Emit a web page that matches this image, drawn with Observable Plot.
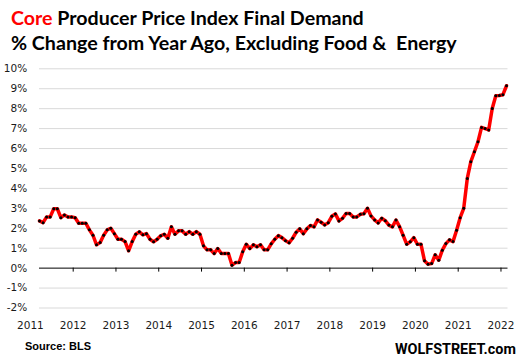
<!DOCTYPE html>
<html><head><meta charset="utf-8">
<script src="https://cdn.jsdelivr.net/npm/d3@7"></script>
<script src="https://cdn.jsdelivr.net/npm/@observablehq/plot@0.6"></script>
<style>
html,body{margin:0;padding:0;background:#fff;}
#wrap{position:relative;width:521px;height:364px;overflow:hidden;background:#fff;}
.ln{position:absolute;white-space:pre;font-weight:700;line-height:1;display:inline-block;color:#000;}
.ttl{font-family:Lato,"Liberation Sans",sans-serif;}
.bl{display:inline-block;width:0;height:0;vertical-align:baseline;}
#chart{position:absolute;left:0;top:58px;}
#src{font-family:"Liberation Sans",Arial,sans-serif;}
#wolf{font-family:Roboto,"Liberation Sans",sans-serif;}
</style></head>
<body>
<div id="wrap">
  <div id="t1" class="ln ttl"><span style="color:#ff0000">Core</span> Producer Price Index Final Demand<span class="bl"></span></div>
  <div id="t2" class="ln ttl">% Change from Year Ago, Excluding Food &amp;  Energy<span class="bl"></span></div>
  <div id="chart"></div>
  <div id="src" class="ln">Source: BLS<span class="bl"></span></div>
  <div id="wolf" class="ln">WOLFSTREET.com<span class="bl"></span></div>
</div>
<script>
// Core PPI Final Demand, % change y/y, monthly from Apr 2011 to Mar 2022
const v2011 = [2.37, 2.28, 2.57, 2.57, 2.98, 2.98, 2.53, 2.67, 2.57]; // Apr-Dec
const v2012 = [2.57, 2.53, 2.25, 2.25, 2.25, 1.92, 1.65, 1.17, 1.28, 1.65, 1.92, 2.00];
const v2013 = [1.73, 1.45, 1.45, 1.33, 0.87, 1.33, 1.70, 1.82, 1.67, 1.73, 1.45, 1.32];
const v2014 = [1.45, 1.62, 1.70, 1.50, 2.07, 1.70, 1.87, 1.87, 1.70, 1.83, 1.70, 1.83];
const v2015 = [1.70, 1.12, 0.92, 0.92, 0.73, 0.98, 0.73, 0.73, 0.73, 0.15, 0.28, 0.28];
const v2016 = [0.82, 1.20, 0.98, 1.17, 1.07, 1.17, 0.92, 0.92, 1.22, 1.45, 1.63, 1.53];
const v2017 = [1.38, 1.27, 1.50, 1.80, 1.97, 1.72, 1.97, 2.14, 2.07, 2.42, 2.30, 2.17];
const v2018 = [2.28, 2.60, 2.72, 2.37, 2.50, 2.74, 2.74, 2.57, 2.57, 2.70, 2.73, 3.00];
const v2019 = [2.62, 2.42, 2.27, 2.50, 2.38, 2.16, 2.07, 2.41, 2.08, 1.65, 1.20, 1.32];
const v2020 = [1.53, 1.20, 1.20, 0.37, 0.20, 0.23, 0.67, 0.40, 0.90, 1.23, 1.42, 1.33];
const v2021 = [1.90, 2.53, 3.00, 4.50, 5.34, 5.84, 6.34, 7.06, 7.00, 6.93, 8.01, 8.65];
const v2022 = [8.66, 8.70, 9.15]; // Jan-Mar

const yearLabels = ["2011","2012","2013","2014","2015","2016","2017","2018","2019","2020","2021","2022"];
const yTicks = [-2, -1, 0, 1, 2, 3, 4, 5, 6, 7, 8, 9, 10];
const firstMonth = 3; // April (0-based) of 2011

const values = [...v2011, ...v2012, ...v2013, ...v2014, ...v2015, ...v2016,
                ...v2017, ...v2018, ...v2019, ...v2020, ...v2021, ...v2022];
const data = values.map((v, i) => ({i, v}));
const janIndex = (label) => (+label - 2011) * 12 - firstMonth + 0.45;
const tickYears = yearLabels.slice(1);

const chart = Plot.plot({
  width: 521,
  height: 282,
  marginLeft: 39,
  marginRight: 13.5,
  marginTop: 10.3,
  marginBottom: 32.5,
  style: {fontFamily: "'DejaVu Sans', sans-serif", fontSize: "10.5px", color: "#1a1a1a", background: "#fff", overflow: "visible"},
  x: {type: "linear", domain: [0, values.length - 1], range: [39, 506], axis: null},
  y: {domain: [-2, 10], axis: null},
  marks: [
    Plot.ruleY(yTicks.filter(d => d !== 0), {stroke: "#d9d9d9", strokeWidth: 1}),
    Plot.ruleY([0], {stroke: "#000", strokeWidth: 1}),
    Plot.ruleX(tickYears, {x: janIndex, y1: 0, y2: -0.2, stroke: "#000", strokeWidth: 1}),
    Plot.axisY(yTicks, {tickSize: 0, tickPadding: 12.3, tickFormat: d => d + "%", label: null, fill: "#1a1a1a"}),
    Plot.text(yearLabels, {x: janIndex, y: -2, dy: 17.5, text: d => d, fill: "#1a1a1a", textAnchor: "middle"}),
    Plot.line(data, {x: "i", y: "v", stroke: "#ff0000", strokeWidth: 3.5, strokeLinejoin: "round", strokeLinecap: "round"}),
    Plot.dot(data, {x: "i", y: "v", r: 1.5, fill: "#000", stroke: "none"})
  ]
});
document.getElementById("chart").appendChild(chart);

function place(id, left, right, baseline, fitWidth) {
  const el = document.getElementById(id);
  if (fitWidth) {
    el.style.fontSize = "20px";
    const w = el.getBoundingClientRect().width;
    el.style.fontSize = (20 * (right - left) / w) + "px";
  }
  const bl = el.querySelector(".bl");
  const off = bl.getBoundingClientRect().top - el.getBoundingClientRect().top;
  el.style.top = (baseline - off) + "px";
  if (left != null) el.style.left = left + "px";
  else el.style.left = (right - el.getBoundingClientRect().width) + "px";
}
place("t1", 11, 364, 25, true);
place("t2", 11, 457, 50, true);
document.getElementById("src").style.fontSize = "11px";
place("src", 25, null, 350, false);
place("wolf", 395, 516, 354, true);
</script>
</body></html>
